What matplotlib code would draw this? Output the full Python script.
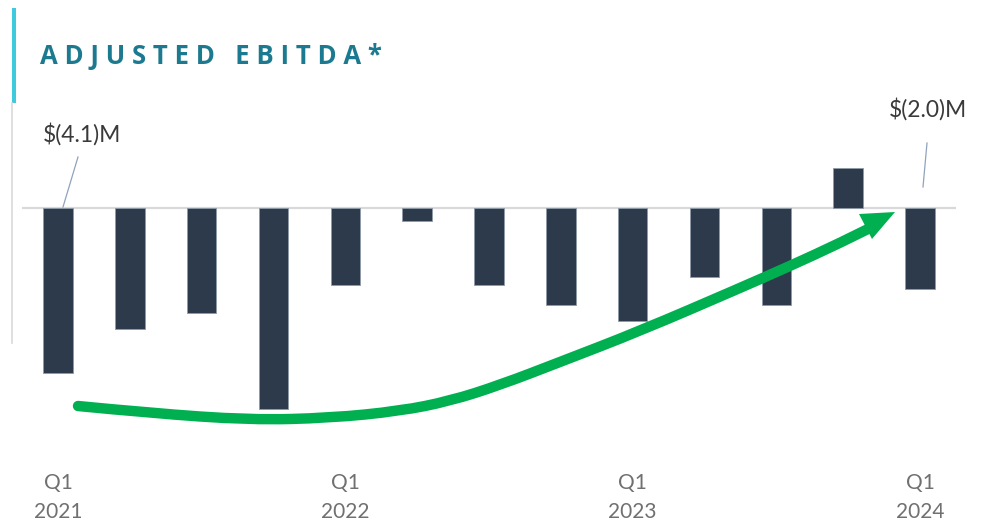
import matplotlib.pyplot as plt
import matplotlib.transforms as mtransforms
from matplotlib.patches import Polygon, Rectangle, PathPatch
from matplotlib.path import Path
import numpy as np

# quarterly adjusted EBITDA, $M (Q1 2021 .. Q1 2024)
quarters = ["Q1 2021", "Q2 2021", "Q3 2021", "Q4 2021",
            "Q1 2022", "Q2 2022", "Q3 2022", "Q4 2022",
            "Q1 2023", "Q2 2023", "Q3 2023", "Q4 2023",
            "Q1 2024"]
ebitda = [-4.1, -3.0, -2.6, -5.0, -1.9, -0.3, -1.9, -2.4, -2.8, -1.7, -2.4, 1.0, -2.0]

tick_idx = [0, 4, 8, 12]
tick_q = ["Q1", "Q1", "Q1", "Q1"]
tick_year = ["2021", "2022", "2023", "2024"]
callout_idx = [0, 12]

W, H = 990, 524
fig = plt.figure(figsize=(W / 100, H / 100), dpi=100)
ax = fig.add_axes([0, 0, 1, 1])
ax.axis("off")

# pixel layout of the slide: bar 0 centred at x=58, 71.83 px per quarter,
# zero line at y=208.5, 40.1 px per $M
x0, dx = 58.0, 71.83
y0, dy = 208.5, 40.1
ax.set_xlim(-x0 / dx, (W - x0) / dx)
ax.set_ylim(-(H - y0) / dy, y0 / dy)

# pixel transform (origin top-left) for the decorations
px = mtransforms.Affine2D().scale(1 / W, -1 / H).translate(0, 1) + fig.transFigure

x = np.arange(len(quarters))
ax.hlines(0, -0.5, 12.5, color="#d9d9d9", lw=1.6, zorder=1)
ax.bar(x, ebitda, width=0.41, color="#2d3a4b", edgecolor="#8f9aa8",
       linewidth=0.6, zorder=2)

# x labels
for i, q, yr in zip(tick_idx, tick_q, tick_year):
    ax.text(i, -(483 - y0) / dy, q, ha="center", va="center", fontsize=15,
            color="#707070", family="Lato")
    ax.text(i, -(512 - y0) / dy, yr, ha="center", va="center", fontsize=15,
            color="#707070", family="Lato")

# callouts on first and last quarter
callout_pos = [((82, 134), (78, 157), (63, 207)),
               ((928, 109), (927, 143), (923, 187))]
for i, (tp, a, b) in zip(callout_idx, callout_pos):
    v = ebitda[i]
    lab = f"$({abs(v):.1f})M" if v < 0 else f"${v:.1f}M"
    fig.text(tp[0] / W, 1 - tp[1] / H, lab, ha="center", va="center",
             fontsize=16.5, color="#3a3a3a", family="Lato")
    fig.add_artist(plt.Line2D([a[0], b[0]], [a[1], b[1]], transform=px,
                              color="#8fa3bd", lw=0.9))

# title + accent bar
fig.add_artist(Rectangle((12, 8), 4, 95, transform=px, color="#3fcbdd", lw=0))
fig.add_artist(plt.Line2D([12, 12], [103, 343], transform=px,
                          color="#d9d9d9", lw=1.2))
fig.text(40 / W, 1 - 57 / H, "A D J U S T E D   E B I T D A *", ha="left",
         va="center", fontsize=18.5, color="#1b7a8f", family="Open Sans",
         fontweight="bold")

# green trend arrow (quadratic spline through the sketch points)
cp = [(78, 406), (150, 413), (250, 420), (330, 418), (400, 411), (450, 401),
      (500, 385), (560, 362), (640, 331), (740, 288), (790, 266), (840, 243),
      (868, 229)]
verts = [cp[0]]
codes = [Path.MOVETO]
for k in range(1, len(cp) - 2):
    mid = ((cp[k][0] + cp[k + 1][0]) / 2, (cp[k][1] + cp[k + 1][1]) / 2)
    verts += [cp[k], mid]
    codes += [Path.CURVE3, Path.CURVE3]
verts += [cp[-2], cp[-1]]
codes += [Path.CURVE3, Path.CURVE3]
fig.add_artist(PathPatch(Path(verts, codes), transform=px, fill=False,
                         edgecolor="#00b050", lw=7.5, capstyle="round",
                         joinstyle="round"))
fig.add_artist(Polygon([(895, 212), (859, 214), (872, 239)], closed=True,
                       transform=px, color="#00b050", lw=0))

fig.savefig("out.png", dpi=100)
